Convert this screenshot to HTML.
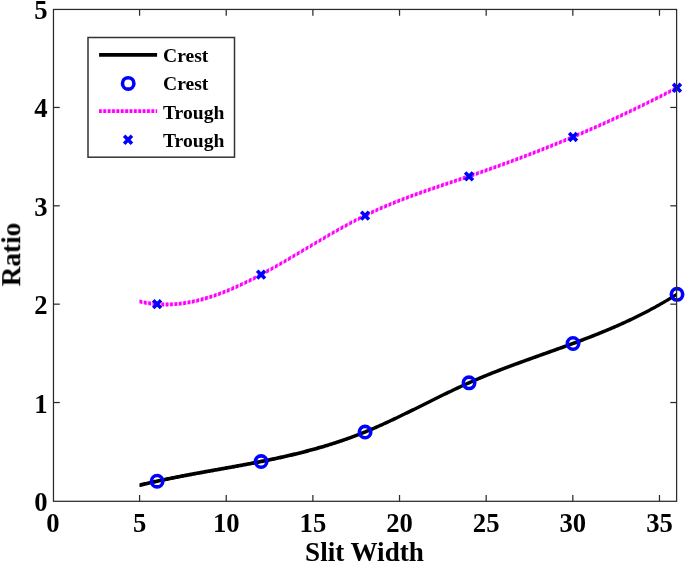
<!DOCTYPE html>
<html><head><meta charset="utf-8"><style>
html,body{margin:0;padding:0;background:#fff;}
svg{display:block;}
text{font-family:"Liberation Serif",serif;font-weight:bold;fill:#000;}
.t{will-change:transform;}
</style></head><body>
<svg width="685" height="563" viewBox="0 0 685 563">
<rect x="0" y="0" width="685" height="563" fill="#fff"/>
<g class="t" font-size="26.67">
<text x="52.93" y="531.5" text-anchor="middle">0</text><text x="139.58" y="531.5" text-anchor="middle">5</text><text x="226.23" y="531.5" text-anchor="middle">10</text><text x="312.88" y="531.5" text-anchor="middle">15</text><text x="399.53" y="531.5" text-anchor="middle">20</text><text x="486.18" y="531.5" text-anchor="middle">25</text><text x="572.83" y="531.5" text-anchor="middle">30</text><text x="659.48" y="531.5" text-anchor="middle">35</text><text x="47.5" y="510.89" text-anchor="end">0</text><text x="47.5" y="412.53" text-anchor="end">1</text><text x="47.5" y="314.17" text-anchor="end">2</text><text x="47.5" y="215.81" text-anchor="end">3</text><text x="47.5" y="117.45" text-anchor="end">4</text><text x="47.5" y="19.09" text-anchor="end">5</text>
<text transform="translate(364.44,561.4) scale(1.017,1)" text-anchor="middle">Slit Width</text>
<text transform="translate(20.2,254.57) rotate(-90) scale(1.025,1)" text-anchor="middle">Ratio</text>
</g>
<path d="M139.50,483.32 L140.50,483.08 L141.50,482.84 L142.50,482.60 L143.49,482.36 L144.49,482.12 L145.49,481.89 L146.49,481.66 L147.49,481.43 L148.49,481.20 L149.49,480.97 L150.49,480.74 L151.48,480.52 L152.48,480.29 L153.48,480.07 L154.48,479.85 L155.48,479.63 L156.48,479.41 L157.48,479.19 L158.48,478.98 L159.47,478.76 L160.47,478.55 L161.47,478.34 L162.47,478.13 L163.47,477.92 L164.47,477.71 L165.47,477.50 L166.47,477.29 L167.46,477.09 L168.46,476.88 L169.46,476.68 L170.46,476.48 L171.46,476.28 L172.46,476.08 L173.46,475.88 L174.46,475.68 L175.45,475.48 L176.45,475.28 L177.45,475.09 L178.45,474.89 L179.45,474.70 L180.45,474.50 L181.45,474.31 L182.44,474.12 L183.44,473.93 L184.44,473.74 L185.44,473.55 L186.44,473.36 L187.44,473.17 L188.44,472.98 L189.44,472.79 L190.43,472.61 L191.43,472.42 L192.43,472.24 L193.43,472.05 L194.43,471.87 L195.43,471.68 L196.43,471.50 L197.43,471.32 L198.42,471.13 L199.42,470.95 L200.42,470.77 L201.42,470.59 L202.42,470.41 L203.42,470.22 L204.42,470.04 L205.42,469.86 L206.41,469.68 L207.41,469.50 L208.41,469.32 L209.41,469.14 L210.41,468.97 L211.41,468.79 L212.41,468.61 L213.41,468.43 L214.40,468.25 L215.40,468.07 L216.40,467.89 L217.40,467.71 L218.40,467.53 L219.40,467.36 L220.40,467.18 L221.39,467.00 L222.39,466.82 L223.39,466.64 L224.39,466.46 L225.39,466.28 L226.39,466.10 L227.39,465.92 L228.39,465.74 L229.38,465.56 L230.38,465.38 L231.38,465.20 L232.38,465.02 L233.38,464.84 L234.38,464.66 L235.38,464.48 L236.38,464.29 L237.37,464.11 L238.37,463.93 L239.37,463.74 L240.37,463.56 L241.37,463.38 L242.37,463.19 L243.37,463.01 L244.37,462.82 L245.36,462.63 L246.36,462.45 L247.36,462.26 L248.36,462.07 L249.36,461.88 L250.36,461.69 L251.36,461.50 L252.36,461.31 L253.35,461.12 L254.35,460.93 L255.35,460.73 L256.35,460.54 L257.35,460.34 L258.35,460.15 L259.35,459.95 L260.34,459.75 L261.34,459.56 L262.34,459.36 L263.34,459.16 L264.34,458.96 L265.34,458.75 L266.34,458.55 L267.34,458.35 L268.33,458.14 L269.33,457.93 L270.33,457.73 L271.33,457.52 L272.33,457.31 L273.33,457.10 L274.33,456.89 L275.33,456.67 L276.32,456.46 L277.32,456.24 L278.32,456.03 L279.32,455.81 L280.32,455.59 L281.32,455.37 L282.32,455.15 L283.32,454.92 L284.31,454.70 L285.31,454.47 L286.31,454.24 L287.31,454.02 L288.31,453.79 L289.31,453.55 L290.31,453.32 L291.31,453.08 L292.30,452.85 L293.30,452.61 L294.30,452.37 L295.30,452.13 L296.30,451.89 L297.30,451.64 L298.30,451.40 L299.29,451.15 L300.29,450.90 L301.29,450.65 L302.29,450.39 L303.29,450.14 L304.29,449.88 L305.29,449.62 L306.29,449.36 L307.28,449.10 L308.28,448.84 L309.28,448.57 L310.28,448.30 L311.28,448.03 L312.28,447.76 L313.28,447.49 L314.28,447.21 L315.27,446.93 L316.27,446.65 L317.27,446.37 L318.27,446.09 L319.27,445.80 L320.27,445.51 L321.27,445.22 L322.27,444.93 L323.26,444.64 L324.26,444.34 L325.26,444.04 L326.26,443.74 L327.26,443.44 L328.26,443.13 L329.26,442.82 L330.26,442.51 L331.25,442.20 L332.25,441.88 L333.25,441.56 L334.25,441.24 L335.25,440.92 L336.25,440.60 L337.25,440.27 L338.24,439.94 L339.24,439.61 L340.24,439.27 L341.24,438.93 L342.24,438.59 L343.24,438.25 L344.24,437.90 L345.24,437.55 L346.23,437.20 L347.23,436.85 L348.23,436.49 L349.23,436.13 L350.23,435.77 L351.23,435.41 L352.23,435.04 L353.23,434.67 L354.22,434.30 L355.22,433.92 L356.22,433.54 L357.22,433.16 L358.22,432.78 L359.22,432.39 L360.22,432.00 L361.22,431.60 L362.21,431.21 L363.21,430.81 L364.21,430.41 L365.21,430.00 L366.21,429.59 L367.21,429.18 L368.21,428.76 L369.21,428.35 L370.20,427.93 L371.20,427.50 L372.20,427.08 L373.20,426.65 L374.20,426.22 L375.20,425.78 L376.20,425.35 L377.19,424.91 L378.19,424.46 L379.19,424.02 L380.19,423.57 L381.19,423.13 L382.19,422.68 L383.19,422.22 L384.19,421.77 L385.18,421.31 L386.18,420.85 L387.18,420.39 L388.18,419.93 L389.18,419.46 L390.18,418.99 L391.18,418.53 L392.18,418.06 L393.17,417.58 L394.17,417.11 L395.17,416.64 L396.17,416.16 L397.17,415.68 L398.17,415.20 L399.17,414.72 L400.17,414.24 L401.16,413.76 L402.16,413.27 L403.16,412.79 L404.16,412.30 L405.16,411.81 L406.16,411.32 L407.16,410.83 L408.15,410.34 L409.15,409.85 L410.15,409.36 L411.15,408.87 L412.15,408.37 L413.15,407.88 L414.15,407.39 L415.15,406.89 L416.14,406.39 L417.14,405.90 L418.14,405.40 L419.14,404.91 L420.14,404.41 L421.14,403.91 L422.14,403.42 L423.14,402.92 L424.13,402.42 L425.13,401.92 L426.13,401.43 L427.13,400.93 L428.13,400.43 L429.13,399.94 L430.13,399.44 L431.13,398.94 L432.12,398.45 L433.12,397.95 L434.12,397.46 L435.12,396.96 L436.12,396.47 L437.12,395.98 L438.12,395.49 L439.12,394.99 L440.11,394.50 L441.11,394.01 L442.11,393.52 L443.11,393.04 L444.11,392.55 L445.11,392.06 L446.11,391.58 L447.10,391.10 L448.10,390.61 L449.10,390.13 L450.10,389.65 L451.10,389.17 L452.10,388.70 L453.10,388.22 L454.10,387.75 L455.09,387.27 L456.09,386.80 L457.09,386.33 L458.09,385.87 L459.09,385.40 L460.09,384.94 L461.09,384.48 L462.09,384.02 L463.08,383.56 L464.08,383.10 L465.08,382.65 L466.08,382.20 L467.08,381.75 L468.08,381.30 L469.08,380.86 L470.08,380.41 L471.07,379.97 L472.07,379.54 L473.07,379.10 L474.07,378.67 L475.07,378.24 L476.07,377.81 L477.07,377.38 L478.07,376.96 L479.06,376.53 L480.06,376.11 L481.06,375.70 L482.06,375.28 L483.06,374.86 L484.06,374.45 L485.06,374.04 L486.05,373.63 L487.05,373.22 L488.05,372.82 L489.05,372.42 L490.05,372.01 L491.05,371.61 L492.05,371.22 L493.05,370.82 L494.04,370.42 L495.04,370.03 L496.04,369.64 L497.04,369.25 L498.04,368.86 L499.04,368.47 L500.04,368.08 L501.04,367.70 L502.03,367.31 L503.03,366.93 L504.03,366.55 L505.03,366.17 L506.03,365.79 L507.03,365.42 L508.03,365.04 L509.03,364.66 L510.02,364.29 L511.02,363.92 L512.02,363.55 L513.02,363.18 L514.02,362.81 L515.02,362.44 L516.02,362.07 L517.02,361.70 L518.01,361.33 L519.01,360.97 L520.01,360.60 L521.01,360.24 L522.01,359.88 L523.01,359.51 L524.01,359.15 L525.00,358.79 L526.00,358.43 L527.00,358.07 L528.00,357.71 L529.00,357.35 L530.00,356.99 L531.00,356.64 L532.00,356.28 L532.99,355.92 L533.99,355.56 L534.99,355.21 L535.99,354.85 L536.99,354.49 L537.99,354.14 L538.99,353.78 L539.99,353.43 L540.98,353.07 L541.98,352.72 L542.98,352.36 L543.98,352.00 L544.98,351.65 L545.98,351.29 L546.98,350.94 L547.98,350.58 L548.97,350.23 L549.97,349.87 L550.97,349.52 L551.97,349.16 L552.97,348.80 L553.97,348.45 L554.97,348.09 L555.97,347.73 L556.96,347.37 L557.96,347.02 L558.96,346.66 L559.96,346.30 L560.96,345.94 L561.96,345.58 L562.96,345.22 L563.95,344.86 L564.95,344.49 L565.95,344.13 L566.95,343.77 L567.95,343.40 L568.95,343.04 L569.95,342.67 L570.95,342.31 L571.94,341.94 L572.94,341.57 L573.94,341.20 L574.94,340.83 L575.94,340.46 L576.94,340.09 L577.94,339.72 L578.94,339.34 L579.93,338.97 L580.93,338.59 L581.93,338.21 L582.93,337.84 L583.93,337.46 L584.93,337.07 L585.93,336.69 L586.93,336.31 L587.92,335.92 L588.92,335.54 L589.92,335.15 L590.92,334.76 L591.92,334.37 L592.92,333.98 L593.92,333.58 L594.92,333.19 L595.91,332.79 L596.91,332.39 L597.91,331.99 L598.91,331.59 L599.91,331.19 L600.91,330.78 L601.91,330.37 L602.90,329.96 L603.90,329.55 L604.90,329.14 L605.90,328.73 L606.90,328.31 L607.90,327.89 L608.90,327.47 L609.90,327.05 L610.89,326.62 L611.89,326.20 L612.89,325.77 L613.89,325.34 L614.89,324.90 L615.89,324.47 L616.89,324.03 L617.89,323.59 L618.88,323.15 L619.88,322.70 L620.88,322.25 L621.88,321.80 L622.88,321.35 L623.88,320.90 L624.88,320.44 L625.88,319.98 L626.87,319.52 L627.87,319.05 L628.87,318.59 L629.87,318.12 L630.87,317.64 L631.87,317.17 L632.87,316.69 L633.87,316.21 L634.86,315.72 L635.86,315.24 L636.86,314.75 L637.86,314.26 L638.86,313.76 L639.86,313.26 L640.86,312.76 L641.85,312.26 L642.85,311.75 L643.85,311.24 L644.85,310.72 L645.85,310.21 L646.85,309.69 L647.85,309.16 L648.85,308.64 L649.84,308.11 L650.84,307.57 L651.84,307.04 L652.84,306.50 L653.84,305.95 L654.84,305.40 L655.84,304.85 L656.84,304.30 L657.83,303.74 L658.83,303.18 L659.83,302.62 L660.83,302.05 L661.83,301.48 L662.83,300.90 L663.83,300.32 L664.83,299.74 L665.82,299.15 L666.82,298.56 L667.82,297.97 L668.82,297.37 L669.82,296.76 L670.82,296.16 L671.82,295.55 L672.82,294.93 L673.81,294.31 L674.81,293.69 L675.81,293.06 L676.81,292.43 L676.81,296.23 L675.81,296.86 L674.81,297.49 L673.81,298.11 L672.82,298.73 L671.82,299.35 L670.82,299.96 L669.82,300.56 L668.82,301.17 L667.82,301.77 L666.82,302.36 L665.82,302.95 L664.83,303.54 L663.83,304.12 L662.83,304.70 L661.83,305.28 L660.83,305.85 L659.83,306.42 L658.83,306.98 L657.83,307.54 L656.84,308.10 L655.84,308.65 L654.84,309.20 L653.84,309.75 L652.84,310.30 L651.84,310.84 L650.84,311.37 L649.84,311.91 L648.85,312.44 L647.85,312.96 L646.85,313.49 L645.85,314.01 L644.85,314.52 L643.85,315.04 L642.85,315.55 L641.85,316.06 L640.86,316.56 L639.86,317.06 L638.86,317.56 L637.86,318.06 L636.86,318.55 L635.86,319.04 L634.86,319.52 L633.87,320.01 L632.87,320.49 L631.87,320.97 L630.87,321.44 L629.87,321.92 L628.87,322.39 L627.87,322.85 L626.87,323.32 L625.88,323.78 L624.88,324.24 L623.88,324.70 L622.88,325.15 L621.88,325.60 L620.88,326.05 L619.88,326.50 L618.88,326.95 L617.89,327.39 L616.89,327.83 L615.89,328.27 L614.89,328.70 L613.89,329.14 L612.89,329.57 L611.89,330.00 L610.89,330.42 L609.90,330.85 L608.90,331.27 L607.90,331.69 L606.90,332.11 L605.90,332.53 L604.90,332.94 L603.90,333.35 L602.90,333.76 L601.91,334.17 L600.91,334.58 L599.91,334.99 L598.91,335.39 L597.91,335.79 L596.91,336.19 L595.91,336.59 L594.92,336.99 L593.92,337.38 L592.92,337.78 L591.92,338.17 L590.92,338.56 L589.92,338.95 L588.92,339.34 L587.92,339.72 L586.93,340.11 L585.93,340.49 L584.93,340.87 L583.93,341.26 L582.93,341.64 L581.93,342.01 L580.93,342.39 L579.93,342.77 L578.94,343.14 L577.94,343.52 L576.94,343.89 L575.94,344.26 L574.94,344.63 L573.94,345.00 L572.94,345.37 L571.94,345.74 L570.95,346.11 L569.95,346.47 L568.95,346.84 L567.95,347.20 L566.95,347.57 L565.95,347.93 L564.95,348.29 L563.95,348.66 L562.96,349.02 L561.96,349.38 L560.96,349.74 L559.96,350.10 L558.96,350.46 L557.96,350.82 L556.96,351.17 L555.97,351.53 L554.97,351.89 L553.97,352.25 L552.97,352.60 L551.97,352.96 L550.97,353.32 L549.97,353.67 L548.97,354.03 L547.98,354.38 L546.98,354.74 L545.98,355.09 L544.98,355.45 L543.98,355.80 L542.98,356.16 L541.98,356.52 L540.98,356.87 L539.99,357.23 L538.99,357.58 L537.99,357.94 L536.99,358.29 L535.99,358.65 L534.99,359.01 L533.99,359.36 L532.99,359.72 L532.00,360.08 L531.00,360.44 L530.00,360.79 L529.00,361.15 L528.00,361.51 L527.00,361.87 L526.00,362.23 L525.00,362.59 L524.01,362.95 L523.01,363.31 L522.01,363.68 L521.01,364.04 L520.01,364.40 L519.01,364.77 L518.01,365.13 L517.02,365.50 L516.02,365.87 L515.02,366.24 L514.02,366.61 L513.02,366.98 L512.02,367.35 L511.02,367.72 L510.02,368.09 L509.03,368.46 L508.03,368.84 L507.03,369.22 L506.03,369.59 L505.03,369.97 L504.03,370.35 L503.03,370.73 L502.03,371.11 L501.04,371.50 L500.04,371.88 L499.04,372.27 L498.04,372.66 L497.04,373.05 L496.04,373.44 L495.04,373.83 L494.04,374.22 L493.05,374.62 L492.05,375.02 L491.05,375.41 L490.05,375.81 L489.05,376.22 L488.05,376.62 L487.05,377.02 L486.05,377.43 L485.06,377.84 L484.06,378.25 L483.06,378.66 L482.06,379.08 L481.06,379.50 L480.06,379.91 L479.06,380.33 L478.07,380.76 L477.07,381.18 L476.07,381.61 L475.07,382.04 L474.07,382.47 L473.07,382.90 L472.07,383.34 L471.07,383.77 L470.08,384.21 L469.08,384.66 L468.08,385.10 L467.08,385.55 L466.08,386.00 L465.08,386.45 L464.08,386.90 L463.08,387.36 L462.09,387.82 L461.09,388.28 L460.09,388.74 L459.09,389.20 L458.09,389.67 L457.09,390.13 L456.09,390.60 L455.09,391.07 L454.10,391.55 L453.10,392.02 L452.10,392.50 L451.10,392.97 L450.10,393.45 L449.10,393.93 L448.10,394.41 L447.10,394.90 L446.11,395.38 L445.11,395.86 L444.11,396.35 L443.11,396.84 L442.11,397.32 L441.11,397.81 L440.11,398.30 L439.12,398.79 L438.12,399.29 L437.12,399.78 L436.12,400.27 L435.12,400.76 L434.12,401.26 L433.12,401.75 L432.12,402.25 L431.13,402.74 L430.13,403.24 L429.13,403.74 L428.13,404.23 L427.13,404.73 L426.13,405.23 L425.13,405.72 L424.13,406.22 L423.14,406.72 L422.14,407.22 L421.14,407.71 L420.14,408.21 L419.14,408.71 L418.14,409.20 L417.14,409.70 L416.14,410.19 L415.15,410.69 L414.15,411.19 L413.15,411.68 L412.15,412.17 L411.15,412.67 L410.15,413.16 L409.15,413.65 L408.15,414.14 L407.16,414.63 L406.16,415.12 L405.16,415.61 L404.16,416.10 L403.16,416.59 L402.16,417.07 L401.16,417.56 L400.17,418.04 L399.17,418.52 L398.17,419.00 L397.17,419.48 L396.17,419.96 L395.17,420.44 L394.17,420.91 L393.17,421.38 L392.18,421.86 L391.18,422.33 L390.18,422.79 L389.18,423.26 L388.18,423.73 L387.18,424.19 L386.18,424.65 L385.18,425.11 L384.19,425.57 L383.19,426.02 L382.19,426.48 L381.19,426.93 L380.19,427.37 L379.19,427.82 L378.19,428.26 L377.19,428.71 L376.20,429.15 L375.20,429.58 L374.20,430.02 L373.20,430.45 L372.20,430.88 L371.20,431.30 L370.20,431.73 L369.21,432.15 L368.21,432.56 L367.21,432.98 L366.21,433.39 L365.21,433.80 L364.21,434.21 L363.21,434.61 L362.21,435.01 L361.22,435.40 L360.22,435.80 L359.22,436.19 L358.22,436.58 L357.22,436.96 L356.22,437.34 L355.22,437.72 L354.22,438.10 L353.23,438.47 L352.23,438.84 L351.23,439.21 L350.23,439.57 L349.23,439.93 L348.23,440.29 L347.23,440.65 L346.23,441.00 L345.24,441.35 L344.24,441.70 L343.24,442.05 L342.24,442.39 L341.24,442.73 L340.24,443.07 L339.24,443.41 L338.24,443.74 L337.25,444.07 L336.25,444.40 L335.25,444.72 L334.25,445.04 L333.25,445.36 L332.25,445.68 L331.25,446.00 L330.26,446.31 L329.26,446.62 L328.26,446.93 L327.26,447.24 L326.26,447.54 L325.26,447.84 L324.26,448.14 L323.26,448.44 L322.27,448.73 L321.27,449.02 L320.27,449.31 L319.27,449.60 L318.27,449.89 L317.27,450.17 L316.27,450.45 L315.27,450.73 L314.28,451.01 L313.28,451.29 L312.28,451.56 L311.28,451.83 L310.28,452.10 L309.28,452.37 L308.28,452.64 L307.28,452.90 L306.29,453.16 L305.29,453.42 L304.29,453.68 L303.29,453.94 L302.29,454.19 L301.29,454.45 L300.29,454.70 L299.29,454.95 L298.30,455.20 L297.30,455.44 L296.30,455.69 L295.30,455.93 L294.30,456.17 L293.30,456.41 L292.30,456.65 L291.31,456.88 L290.31,457.12 L289.31,457.35 L288.31,457.59 L287.31,457.82 L286.31,458.04 L285.31,458.27 L284.31,458.50 L283.32,458.72 L282.32,458.95 L281.32,459.17 L280.32,459.39 L279.32,459.61 L278.32,459.83 L277.32,460.04 L276.32,460.26 L275.33,460.47 L274.33,460.69 L273.33,460.90 L272.33,461.11 L271.33,461.32 L270.33,461.53 L269.33,461.73 L268.33,461.94 L267.34,462.15 L266.34,462.35 L265.34,462.55 L264.34,462.76 L263.34,462.96 L262.34,463.16 L261.34,463.36 L260.34,463.55 L259.35,463.75 L258.35,463.95 L257.35,464.14 L256.35,464.34 L255.35,464.53 L254.35,464.73 L253.35,464.92 L252.36,465.11 L251.36,465.30 L250.36,465.49 L249.36,465.68 L248.36,465.87 L247.36,466.06 L246.36,466.25 L245.36,466.43 L244.37,466.62 L243.37,466.81 L242.37,466.99 L241.37,467.18 L240.37,467.36 L239.37,467.54 L238.37,467.73 L237.37,467.91 L236.38,468.09 L235.38,468.28 L234.38,468.46 L233.38,468.64 L232.38,468.82 L231.38,469.00 L230.38,469.18 L229.38,469.36 L228.39,469.54 L227.39,469.72 L226.39,469.90 L225.39,470.08 L224.39,470.26 L223.39,470.44 L222.39,470.62 L221.39,470.80 L220.40,470.98 L219.40,471.16 L218.40,471.33 L217.40,471.51 L216.40,471.69 L215.40,471.87 L214.40,472.05 L213.41,472.23 L212.41,472.41 L211.41,472.59 L210.41,472.77 L209.41,472.94 L208.41,473.12 L207.41,473.30 L206.41,473.48 L205.42,473.66 L204.42,473.84 L203.42,474.02 L202.42,474.21 L201.42,474.39 L200.42,474.57 L199.42,474.75 L198.42,474.93 L197.43,475.12 L196.43,475.30 L195.43,475.48 L194.43,475.67 L193.43,475.85 L192.43,476.04 L191.43,476.22 L190.43,476.41 L189.44,476.59 L188.44,476.78 L187.44,476.97 L186.44,477.16 L185.44,477.35 L184.44,477.54 L183.44,477.73 L182.44,477.92 L181.45,478.11 L180.45,478.30 L179.45,478.50 L178.45,478.69 L177.45,478.89 L176.45,479.08 L175.45,479.28 L174.46,479.48 L173.46,479.68 L172.46,479.88 L171.46,480.08 L170.46,480.28 L169.46,480.48 L168.46,480.68 L167.46,480.89 L166.47,481.09 L165.47,481.30 L164.47,481.51 L163.47,481.72 L162.47,481.93 L161.47,482.14 L160.47,482.35 L159.47,482.56 L158.48,482.78 L157.48,482.99 L156.48,483.21 L155.48,483.43 L154.48,483.65 L153.48,483.87 L152.48,484.09 L151.48,484.32 L150.49,484.54 L149.49,484.77 L148.49,485.00 L147.49,485.23 L146.49,485.46 L145.49,485.69 L144.49,485.92 L143.49,486.16 L142.50,486.40 L141.50,486.64 L140.50,486.88 L139.50,487.12Z" fill="#000"/>
<path d="M139.50,299.51 L140.50,299.75 L141.50,299.98 L142.50,300.20 L143.49,300.40 L144.49,300.60 L145.49,300.79 L146.49,300.97 L147.49,301.14 L148.49,301.30 L149.49,301.45 L150.49,301.59 L151.48,301.72 L152.48,301.84 L153.48,301.95 L154.48,302.06 L155.48,302.15 L156.48,302.24 L157.48,302.31 L158.48,302.38 L159.47,302.44 L160.47,302.49 L161.47,302.53 L162.47,302.56 L163.47,302.58 L164.47,302.60 L165.47,302.60 L166.47,302.60 L167.46,302.59 L168.46,302.57 L169.46,302.54 L170.46,302.51 L171.46,302.46 L172.46,302.41 L173.46,302.35 L174.46,302.28 L175.45,302.20 L176.45,302.12 L177.45,302.03 L178.45,301.93 L179.45,301.82 L180.45,301.70 L181.45,301.58 L182.44,301.45 L183.44,301.31 L184.44,301.17 L185.44,301.02 L186.44,300.86 L187.44,300.69 L188.44,300.51 L189.44,300.33 L190.43,300.14 L191.43,299.95 L192.43,299.75 L193.43,299.54 L194.43,299.32 L195.43,299.10 L196.43,298.87 L197.43,298.63 L198.42,298.39 L199.42,298.14 L200.42,297.89 L201.42,297.62 L202.42,297.36 L203.42,297.08 L204.42,296.80 L205.42,296.51 L206.41,296.22 L207.41,295.92 L208.41,295.62 L209.41,295.31 L210.41,294.99 L211.41,294.67 L212.41,294.34 L213.41,294.01 L214.40,293.67 L215.40,293.32 L216.40,292.97 L217.40,292.62 L218.40,292.25 L219.40,291.89 L220.40,291.52 L221.39,291.14 L222.39,290.76 L223.39,290.37 L224.39,289.98 L225.39,289.58 L226.39,289.18 L227.39,288.77 L228.39,288.36 L229.38,287.95 L230.38,287.53 L231.38,287.10 L232.38,286.67 L233.38,286.24 L234.38,285.80 L235.38,285.36 L236.38,284.91 L237.37,284.46 L238.37,284.00 L239.37,283.54 L240.37,283.08 L241.37,282.61 L242.37,282.14 L243.37,281.66 L244.37,281.18 L245.36,280.70 L246.36,280.21 L247.36,279.72 L248.36,279.23 L249.36,278.73 L250.36,278.23 L251.36,277.73 L252.36,277.22 L253.35,276.71 L254.35,276.20 L255.35,275.68 L256.35,275.16 L257.35,274.64 L258.35,274.11 L259.35,273.58 L260.34,273.05 L261.34,272.52 L262.34,271.98 L263.34,271.44 L264.34,270.90 L265.34,270.36 L266.34,269.81 L267.34,269.26 L268.33,268.71 L269.33,268.15 L270.33,267.60 L271.33,267.04 L272.33,266.48 L273.33,265.92 L274.33,265.35 L275.33,264.79 L276.32,264.22 L277.32,263.65 L278.32,263.08 L279.32,262.50 L280.32,261.93 L281.32,261.35 L282.32,260.77 L283.32,260.19 L284.31,259.61 L285.31,259.03 L286.31,258.45 L287.31,257.86 L288.31,257.28 L289.31,256.69 L290.31,256.10 L291.31,255.51 L292.30,254.92 L293.30,254.33 L294.30,253.74 L295.30,253.15 L296.30,252.56 L297.30,251.96 L298.30,251.37 L299.29,250.78 L300.29,250.18 L301.29,249.59 L302.29,248.99 L303.29,248.40 L304.29,247.80 L305.29,247.21 L306.29,246.61 L307.28,246.01 L308.28,245.42 L309.28,244.82 L310.28,244.23 L311.28,243.63 L312.28,243.04 L313.28,242.44 L314.28,241.85 L315.27,241.26 L316.27,240.66 L317.27,240.07 L318.27,239.48 L319.27,238.89 L320.27,238.30 L321.27,237.71 L322.27,237.12 L323.26,236.54 L324.26,235.95 L325.26,235.37 L326.26,234.78 L327.26,234.20 L328.26,233.62 L329.26,233.04 L330.26,232.46 L331.25,231.88 L332.25,231.31 L333.25,230.74 L334.25,230.16 L335.25,229.59 L336.25,229.02 L337.25,228.46 L338.24,227.89 L339.24,227.33 L340.24,226.77 L341.24,226.21 L342.24,225.65 L343.24,225.10 L344.24,224.55 L345.24,224.00 L346.23,223.45 L347.23,222.90 L348.23,222.36 L349.23,221.82 L350.23,221.28 L351.23,220.75 L352.23,220.22 L353.23,219.69 L354.22,219.16 L355.22,218.64 L356.22,218.12 L357.22,217.60 L358.22,217.09 L359.22,216.58 L360.22,216.07 L361.22,215.56 L362.21,215.06 L363.21,214.56 L364.21,214.07 L365.21,213.58 L366.21,213.09 L367.21,212.61 L368.21,212.13 L369.21,211.65 L370.20,211.18 L371.20,210.71 L372.20,210.24 L373.20,209.78 L374.20,209.32 L375.20,208.86 L376.20,208.41 L377.19,207.96 L378.19,207.51 L379.19,207.06 L380.19,206.62 L381.19,206.18 L382.19,205.75 L383.19,205.31 L384.19,204.88 L385.18,204.46 L386.18,204.03 L387.18,203.61 L388.18,203.19 L389.18,202.77 L390.18,202.36 L391.18,201.95 L392.18,201.54 L393.17,201.13 L394.17,200.73 L395.17,200.33 L396.17,199.93 L397.17,199.53 L398.17,199.13 L399.17,198.74 L400.17,198.35 L401.16,197.96 L402.16,197.58 L403.16,197.19 L404.16,196.81 L405.16,196.43 L406.16,196.05 L407.16,195.67 L408.15,195.30 L409.15,194.93 L410.15,194.56 L411.15,194.19 L412.15,193.82 L413.15,193.45 L414.15,193.09 L415.15,192.73 L416.14,192.36 L417.14,192.00 L418.14,191.65 L419.14,191.29 L420.14,190.93 L421.14,190.58 L422.14,190.23 L423.14,189.87 L424.13,189.52 L425.13,189.17 L426.13,188.83 L427.13,188.48 L428.13,188.13 L429.13,187.79 L430.13,187.44 L431.13,187.10 L432.12,186.76 L433.12,186.42 L434.12,186.07 L435.12,185.73 L436.12,185.40 L437.12,185.06 L438.12,184.72 L439.12,184.38 L440.11,184.04 L441.11,183.71 L442.11,183.37 L443.11,183.04 L444.11,182.70 L445.11,182.37 L446.11,182.03 L447.10,181.70 L448.10,181.36 L449.10,181.03 L450.10,180.69 L451.10,180.36 L452.10,180.03 L453.10,179.69 L454.10,179.36 L455.09,179.03 L456.09,178.69 L457.09,178.36 L458.09,178.02 L459.09,177.69 L460.09,177.36 L461.09,177.02 L462.09,176.69 L463.08,176.35 L464.08,176.01 L465.08,175.68 L466.08,175.34 L467.08,175.00 L468.08,174.66 L469.08,174.32 L470.08,173.99 L471.07,173.65 L472.07,173.30 L473.07,172.96 L474.07,172.62 L475.07,172.28 L476.07,171.93 L477.07,171.59 L478.07,171.24 L479.06,170.90 L480.06,170.55 L481.06,170.21 L482.06,169.86 L483.06,169.51 L484.06,169.16 L485.06,168.81 L486.05,168.46 L487.05,168.11 L488.05,167.76 L489.05,167.40 L490.05,167.05 L491.05,166.70 L492.05,166.34 L493.05,165.99 L494.04,165.63 L495.04,165.27 L496.04,164.92 L497.04,164.56 L498.04,164.20 L499.04,163.84 L500.04,163.48 L501.04,163.12 L502.03,162.75 L503.03,162.39 L504.03,162.03 L505.03,161.66 L506.03,161.30 L507.03,160.93 L508.03,160.57 L509.03,160.20 L510.02,159.83 L511.02,159.46 L512.02,159.09 L513.02,158.72 L514.02,158.35 L515.02,157.98 L516.02,157.61 L517.02,157.23 L518.01,156.86 L519.01,156.48 L520.01,156.11 L521.01,155.73 L522.01,155.35 L523.01,154.98 L524.01,154.60 L525.00,154.22 L526.00,153.84 L527.00,153.46 L528.00,153.07 L529.00,152.69 L530.00,152.31 L531.00,151.92 L532.00,151.54 L532.99,151.15 L533.99,150.76 L534.99,150.38 L535.99,149.99 L536.99,149.60 L537.99,149.21 L538.99,148.82 L539.99,148.42 L540.98,148.03 L541.98,147.64 L542.98,147.24 L543.98,146.85 L544.98,146.45 L545.98,146.05 L546.98,145.66 L547.98,145.26 L548.97,144.86 L549.97,144.46 L550.97,144.06 L551.97,143.66 L552.97,143.25 L553.97,142.85 L554.97,142.44 L555.97,142.04 L556.96,141.63 L557.96,141.22 L558.96,140.82 L559.96,140.41 L560.96,140.00 L561.96,139.59 L562.96,139.18 L563.95,138.76 L564.95,138.35 L565.95,137.94 L566.95,137.52 L567.95,137.10 L568.95,136.69 L569.95,136.27 L570.95,135.85 L571.94,135.43 L572.94,135.01 L573.94,134.59 L574.94,134.17 L575.94,133.74 L576.94,133.32 L577.94,132.89 L578.94,132.47 L579.93,132.04 L580.93,131.61 L581.93,131.18 L582.93,130.75 L583.93,130.32 L584.93,129.89 L585.93,129.46 L586.93,129.03 L587.92,128.59 L588.92,128.16 L589.92,127.72 L590.92,127.28 L591.92,126.84 L592.92,126.40 L593.92,125.96 L594.92,125.52 L595.91,125.08 L596.91,124.64 L597.91,124.19 L598.91,123.75 L599.91,123.30 L600.91,122.86 L601.91,122.41 L602.90,121.96 L603.90,121.51 L604.90,121.06 L605.90,120.61 L606.90,120.16 L607.90,119.70 L608.90,119.25 L609.90,118.79 L610.89,118.33 L611.89,117.88 L612.89,117.42 L613.89,116.96 L614.89,116.50 L615.89,116.04 L616.89,115.57 L617.89,115.11 L618.88,114.64 L619.88,114.18 L620.88,113.71 L621.88,113.24 L622.88,112.78 L623.88,112.31 L624.88,111.83 L625.88,111.36 L626.87,110.89 L627.87,110.42 L628.87,109.94 L629.87,109.46 L630.87,108.99 L631.87,108.51 L632.87,108.03 L633.87,107.55 L634.86,107.07 L635.86,106.59 L636.86,106.10 L637.86,105.62 L638.86,105.13 L639.86,104.65 L640.86,104.16 L641.85,103.67 L642.85,103.18 L643.85,102.69 L644.85,102.20 L645.85,101.71 L646.85,101.21 L647.85,100.72 L648.85,100.22 L649.84,99.72 L650.84,99.22 L651.84,98.72 L652.84,98.22 L653.84,97.72 L654.84,97.22 L655.84,96.72 L656.84,96.21 L657.83,95.71 L658.83,95.20 L659.83,94.69 L660.83,94.18 L661.83,93.67 L662.83,93.16 L663.83,92.65 L664.83,92.13 L665.82,91.62 L666.82,91.10 L667.82,90.58 L668.82,90.07 L669.82,89.55 L670.82,89.03 L671.82,88.50 L672.82,87.98 L673.81,87.46 L674.81,86.93 L675.81,86.41 L676.81,85.88 L676.81,89.68 L675.81,90.21 L674.81,90.73 L673.81,91.26 L672.82,91.78 L671.82,92.30 L670.82,92.83 L669.82,93.35 L668.82,93.87 L667.82,94.38 L666.82,94.90 L665.82,95.42 L664.83,95.93 L663.83,96.45 L662.83,96.96 L661.83,97.47 L660.83,97.98 L659.83,98.49 L658.83,99.00 L657.83,99.51 L656.84,100.01 L655.84,100.52 L654.84,101.02 L653.84,101.52 L652.84,102.02 L651.84,102.52 L650.84,103.02 L649.84,103.52 L648.85,104.02 L647.85,104.52 L646.85,105.01 L645.85,105.51 L644.85,106.00 L643.85,106.49 L642.85,106.98 L641.85,107.47 L640.86,107.96 L639.86,108.45 L638.86,108.93 L637.86,109.42 L636.86,109.90 L635.86,110.39 L634.86,110.87 L633.87,111.35 L632.87,111.83 L631.87,112.31 L630.87,112.79 L629.87,113.26 L628.87,113.74 L627.87,114.22 L626.87,114.69 L625.88,115.16 L624.88,115.63 L623.88,116.11 L622.88,116.58 L621.88,117.04 L620.88,117.51 L619.88,117.98 L618.88,118.44 L617.89,118.91 L616.89,119.37 L615.89,119.84 L614.89,120.30 L613.89,120.76 L612.89,121.22 L611.89,121.68 L610.89,122.13 L609.90,122.59 L608.90,123.05 L607.90,123.50 L606.90,123.96 L605.90,124.41 L604.90,124.86 L603.90,125.31 L602.90,125.76 L601.91,126.21 L600.91,126.66 L599.91,127.10 L598.91,127.55 L597.91,127.99 L596.91,128.44 L595.91,128.88 L594.92,129.32 L593.92,129.76 L592.92,130.20 L591.92,130.64 L590.92,131.08 L589.92,131.52 L588.92,131.96 L587.92,132.39 L586.93,132.83 L585.93,133.26 L584.93,133.69 L583.93,134.12 L582.93,134.55 L581.93,134.98 L580.93,135.41 L579.93,135.84 L578.94,136.27 L577.94,136.69 L576.94,137.12 L575.94,137.54 L574.94,137.97 L573.94,138.39 L572.94,138.81 L571.94,139.23 L570.95,139.65 L569.95,140.07 L568.95,140.49 L567.95,140.90 L566.95,141.32 L565.95,141.74 L564.95,142.15 L563.95,142.56 L562.96,142.98 L561.96,143.39 L560.96,143.80 L559.96,144.21 L558.96,144.62 L557.96,145.02 L556.96,145.43 L555.97,145.84 L554.97,146.24 L553.97,146.65 L552.97,147.05 L551.97,147.46 L550.97,147.86 L549.97,148.26 L548.97,148.66 L547.98,149.06 L546.98,149.46 L545.98,149.85 L544.98,150.25 L543.98,150.65 L542.98,151.04 L541.98,151.44 L540.98,151.83 L539.99,152.22 L538.99,152.62 L537.99,153.01 L536.99,153.40 L535.99,153.79 L534.99,154.18 L533.99,154.56 L532.99,154.95 L532.00,155.34 L531.00,155.72 L530.00,156.11 L529.00,156.49 L528.00,156.87 L527.00,157.26 L526.00,157.64 L525.00,158.02 L524.01,158.40 L523.01,158.78 L522.01,159.15 L521.01,159.53 L520.01,159.91 L519.01,160.28 L518.01,160.66 L517.02,161.03 L516.02,161.41 L515.02,161.78 L514.02,162.15 L513.02,162.52 L512.02,162.89 L511.02,163.26 L510.02,163.63 L509.03,164.00 L508.03,164.37 L507.03,164.73 L506.03,165.10 L505.03,165.46 L504.03,165.83 L503.03,166.19 L502.03,166.55 L501.04,166.92 L500.04,167.28 L499.04,167.64 L498.04,168.00 L497.04,168.36 L496.04,168.72 L495.04,169.07 L494.04,169.43 L493.05,169.79 L492.05,170.14 L491.05,170.50 L490.05,170.85 L489.05,171.20 L488.05,171.56 L487.05,171.91 L486.05,172.26 L485.06,172.61 L484.06,172.96 L483.06,173.31 L482.06,173.66 L481.06,174.01 L480.06,174.35 L479.06,174.70 L478.07,175.04 L477.07,175.39 L476.07,175.73 L475.07,176.08 L474.07,176.42 L473.07,176.76 L472.07,177.10 L471.07,177.45 L470.08,177.79 L469.08,178.12 L468.08,178.46 L467.08,178.80 L466.08,179.14 L465.08,179.48 L464.08,179.81 L463.08,180.15 L462.09,180.49 L461.09,180.82 L460.09,181.16 L459.09,181.49 L458.09,181.82 L457.09,182.16 L456.09,182.49 L455.09,182.83 L454.10,183.16 L453.10,183.49 L452.10,183.83 L451.10,184.16 L450.10,184.49 L449.10,184.83 L448.10,185.16 L447.10,185.50 L446.11,185.83 L445.11,186.17 L444.11,186.50 L443.11,186.84 L442.11,187.17 L441.11,187.51 L440.11,187.84 L439.12,188.18 L438.12,188.52 L437.12,188.86 L436.12,189.20 L435.12,189.53 L434.12,189.87 L433.12,190.22 L432.12,190.56 L431.13,190.90 L430.13,191.24 L429.13,191.59 L428.13,191.93 L427.13,192.28 L426.13,192.63 L425.13,192.97 L424.13,193.32 L423.14,193.67 L422.14,194.03 L421.14,194.38 L420.14,194.73 L419.14,195.09 L418.14,195.45 L417.14,195.80 L416.14,196.16 L415.15,196.53 L414.15,196.89 L413.15,197.25 L412.15,197.62 L411.15,197.99 L410.15,198.36 L409.15,198.73 L408.15,199.10 L407.16,199.47 L406.16,199.85 L405.16,200.23 L404.16,200.61 L403.16,200.99 L402.16,201.38 L401.16,201.76 L400.17,202.15 L399.17,202.54 L398.17,202.93 L397.17,203.33 L396.17,203.73 L395.17,204.13 L394.17,204.53 L393.17,204.93 L392.18,205.34 L391.18,205.75 L390.18,206.16 L389.18,206.57 L388.18,206.99 L387.18,207.41 L386.18,207.83 L385.18,208.26 L384.19,208.68 L383.19,209.11 L382.19,209.55 L381.19,209.98 L380.19,210.42 L379.19,210.86 L378.19,211.31 L377.19,211.76 L376.20,212.21 L375.20,212.66 L374.20,213.12 L373.20,213.58 L372.20,214.04 L371.20,214.51 L370.20,214.98 L369.21,215.45 L368.21,215.93 L367.21,216.41 L366.21,216.89 L365.21,217.38 L364.21,217.87 L363.21,218.36 L362.21,218.86 L361.22,219.36 L360.22,219.87 L359.22,220.38 L358.22,220.89 L357.22,221.40 L356.22,221.92 L355.22,222.44 L354.22,222.96 L353.23,223.49 L352.23,224.02 L351.23,224.55 L350.23,225.08 L349.23,225.62 L348.23,226.16 L347.23,226.70 L346.23,227.25 L345.24,227.80 L344.24,228.35 L343.24,228.90 L342.24,229.45 L341.24,230.01 L340.24,230.57 L339.24,231.13 L338.24,231.69 L337.25,232.26 L336.25,232.82 L335.25,233.39 L334.25,233.96 L333.25,234.54 L332.25,235.11 L331.25,235.68 L330.26,236.26 L329.26,236.84 L328.26,237.42 L327.26,238.00 L326.26,238.58 L325.26,239.17 L324.26,239.75 L323.26,240.34 L322.27,240.92 L321.27,241.51 L320.27,242.10 L319.27,242.69 L318.27,243.28 L317.27,243.87 L316.27,244.46 L315.27,245.06 L314.28,245.65 L313.28,246.24 L312.28,246.84 L311.28,247.43 L310.28,248.03 L309.28,248.62 L308.28,249.22 L307.28,249.81 L306.29,250.41 L305.29,251.01 L304.29,251.60 L303.29,252.20 L302.29,252.79 L301.29,253.39 L300.29,253.98 L299.29,254.58 L298.30,255.17 L297.30,255.76 L296.30,256.36 L295.30,256.95 L294.30,257.54 L293.30,258.13 L292.30,258.72 L291.31,259.31 L290.31,259.90 L289.31,260.49 L288.31,261.08 L287.31,261.66 L286.31,262.25 L285.31,262.83 L284.31,263.41 L283.32,263.99 L282.32,264.57 L281.32,265.15 L280.32,265.73 L279.32,266.30 L278.32,266.88 L277.32,267.45 L276.32,268.02 L275.33,268.59 L274.33,269.15 L273.33,269.72 L272.33,270.28 L271.33,270.84 L270.33,271.40 L269.33,271.95 L268.33,272.51 L267.34,273.06 L266.34,273.61 L265.34,274.16 L264.34,274.70 L263.34,275.24 L262.34,275.78 L261.34,276.32 L260.34,276.85 L259.35,277.38 L258.35,277.91 L257.35,278.44 L256.35,278.96 L255.35,279.48 L254.35,280.00 L253.35,280.51 L252.36,281.02 L251.36,281.53 L250.36,282.03 L249.36,282.53 L248.36,283.03 L247.36,283.52 L246.36,284.01 L245.36,284.50 L244.37,284.98 L243.37,285.46 L242.37,285.94 L241.37,286.41 L240.37,286.88 L239.37,287.34 L238.37,287.80 L237.37,288.26 L236.38,288.71 L235.38,289.16 L234.38,289.60 L233.38,290.04 L232.38,290.47 L231.38,290.90 L230.38,291.33 L229.38,291.75 L228.39,292.16 L227.39,292.57 L226.39,292.98 L225.39,293.38 L224.39,293.78 L223.39,294.17 L222.39,294.56 L221.39,294.94 L220.40,295.32 L219.40,295.69 L218.40,296.05 L217.40,296.42 L216.40,296.77 L215.40,297.12 L214.40,297.47 L213.41,297.81 L212.41,298.14 L211.41,298.47 L210.41,298.79 L209.41,299.11 L208.41,299.42 L207.41,299.72 L206.41,300.02 L205.42,300.31 L204.42,300.60 L203.42,300.88 L202.42,301.16 L201.42,301.42 L200.42,301.69 L199.42,301.94 L198.42,302.19 L197.43,302.43 L196.43,302.67 L195.43,302.90 L194.43,303.12 L193.43,303.34 L192.43,303.55 L191.43,303.75 L190.43,303.94 L189.44,304.13 L188.44,304.31 L187.44,304.49 L186.44,304.66 L185.44,304.82 L184.44,304.97 L183.44,305.11 L182.44,305.25 L181.45,305.38 L180.45,305.50 L179.45,305.62 L178.45,305.73 L177.45,305.83 L176.45,305.92 L175.45,306.00 L174.46,306.08 L173.46,306.15 L172.46,306.21 L171.46,306.26 L170.46,306.31 L169.46,306.34 L168.46,306.37 L167.46,306.39 L166.47,306.40 L165.47,306.40 L164.47,306.40 L163.47,306.38 L162.47,306.36 L161.47,306.33 L160.47,306.29 L159.47,306.24 L158.48,306.18 L157.48,306.11 L156.48,306.04 L155.48,305.95 L154.48,305.86 L153.48,305.75 L152.48,305.64 L151.48,305.52 L150.49,305.39 L149.49,305.25 L148.49,305.10 L147.49,304.94 L146.49,304.77 L145.49,304.59 L144.49,304.40 L143.49,304.20 L142.50,304.00 L141.50,303.78 L140.50,303.55 L139.50,303.31Z" fill="#f0f" fill-opacity="0.18"/>
<path d="M139.50,299.51 L140.42,299.73 L141.33,299.94 L142.25,300.14 L142.25,303.94 L141.33,303.74 L140.42,303.53 L139.50,303.31Z M143.87,300.48 L144.79,300.66 L145.70,300.83 L146.62,300.99 L146.62,304.79 L145.70,304.63 L144.79,304.46 L143.87,304.28Z M148.24,301.26 L149.16,301.40 L150.07,301.53 L150.99,301.66 L150.99,305.46 L150.07,305.33 L149.16,305.20 L148.24,305.06Z M152.61,301.86 L153.53,301.96 L154.44,302.05 L155.36,302.14 L155.36,305.94 L154.44,305.85 L153.53,305.76 L152.61,305.66Z M156.98,302.28 L157.90,302.34 L158.81,302.40 L159.73,302.45 L159.73,306.25 L158.81,306.20 L157.90,306.14 L156.98,306.08Z M161.35,302.52 L162.27,302.55 L163.18,302.58 L164.10,302.59 L164.10,306.39 L163.18,306.38 L162.27,306.35 L161.35,306.32Z M165.72,302.60 L166.64,302.60 L167.55,302.59 L168.47,302.57 L168.47,306.37 L167.55,306.39 L166.64,306.40 L165.72,306.40Z M170.09,302.52 L171.01,302.48 L171.92,302.44 L172.84,302.39 L172.84,306.19 L171.92,306.24 L171.01,306.28 L170.09,306.32Z M174.46,302.28 L175.38,302.21 L176.29,302.13 L177.21,302.05 L177.21,305.85 L176.29,305.93 L175.38,306.01 L174.46,306.08Z M178.83,301.89 L179.75,301.79 L180.66,301.68 L181.58,301.56 L181.58,305.36 L180.66,305.48 L179.75,305.59 L178.83,305.69Z M183.20,301.35 L184.12,301.22 L185.03,301.08 L185.95,300.94 L185.95,304.74 L185.03,304.88 L184.12,305.02 L183.20,305.15Z M187.57,300.67 L188.49,300.51 L189.40,300.34 L190.32,300.17 L190.32,303.97 L189.40,304.14 L188.49,304.31 L187.57,304.47Z M191.94,299.85 L192.86,299.66 L193.77,299.46 L194.69,299.26 L194.69,303.06 L193.77,303.26 L192.86,303.46 L191.94,303.65Z M196.31,298.90 L197.23,298.68 L198.14,298.46 L199.06,298.23 L199.06,302.03 L198.14,302.26 L197.23,302.48 L196.31,302.70Z M200.68,297.82 L201.60,297.58 L202.51,297.33 L203.43,297.08 L203.43,300.88 L202.51,301.13 L201.60,301.38 L200.68,301.62Z M205.05,296.62 L205.97,296.35 L206.88,296.08 L207.80,295.81 L207.80,299.61 L206.88,299.88 L205.97,300.15 L205.05,300.42Z M209.42,295.30 L210.34,295.01 L211.25,294.72 L212.17,294.42 L212.17,298.22 L211.25,298.52 L210.34,298.81 L209.42,299.10Z M213.79,293.88 L214.71,293.56 L215.62,293.25 L216.54,292.92 L216.54,296.72 L215.62,297.05 L214.71,297.36 L213.79,297.68Z M218.16,292.34 L219.08,292.01 L219.99,291.67 L220.91,291.32 L220.91,295.12 L219.99,295.47 L219.08,295.81 L218.16,296.14Z M222.53,290.71 L223.45,290.35 L224.36,289.99 L225.28,289.63 L225.28,293.43 L224.36,293.79 L223.45,294.15 L222.53,294.51Z M226.90,288.97 L227.82,288.60 L228.73,288.22 L229.65,287.84 L229.65,291.64 L228.73,292.02 L227.82,292.40 L226.90,292.77Z M231.27,287.15 L232.19,286.75 L233.10,286.36 L234.02,285.96 L234.02,289.76 L233.10,290.16 L232.19,290.55 L231.27,290.95Z M235.64,285.24 L236.56,284.83 L237.47,284.41 L238.39,283.99 L238.39,287.79 L237.47,288.21 L236.56,288.63 L235.64,289.04Z M240.01,283.25 L240.93,282.82 L241.84,282.39 L242.76,281.95 L242.76,285.75 L241.84,286.19 L240.93,286.62 L240.01,287.05Z M244.38,281.18 L245.30,280.73 L246.21,280.29 L247.13,279.84 L247.13,283.64 L246.21,284.09 L245.30,284.53 L244.38,284.98Z M248.75,279.04 L249.67,278.58 L250.58,278.12 L251.50,277.66 L251.50,281.46 L250.58,281.92 L249.67,282.38 L248.75,282.84Z M253.12,276.83 L254.04,276.36 L254.95,275.89 L255.87,275.41 L255.87,279.21 L254.95,279.69 L254.04,280.16 L253.12,280.63Z M257.49,274.56 L258.41,274.08 L259.32,273.60 L260.24,273.11 L260.24,276.91 L259.32,277.40 L258.41,277.88 L257.49,278.36Z M261.86,272.24 L262.78,271.75 L263.69,271.25 L264.61,270.75 L264.61,274.55 L263.69,275.05 L262.78,275.55 L261.86,276.04Z M266.23,269.87 L267.15,269.36 L268.06,268.86 L268.98,268.35 L268.98,272.15 L268.06,272.66 L267.15,273.16 L266.23,273.67Z M270.60,267.45 L271.52,266.93 L272.43,266.42 L273.35,265.90 L273.35,269.70 L272.43,270.22 L271.52,270.73 L270.60,271.25Z M274.97,264.99 L275.89,264.47 L276.80,263.94 L277.72,263.42 L277.72,267.22 L276.80,267.74 L275.89,268.27 L274.97,268.79Z M279.34,262.49 L280.26,261.96 L281.17,261.43 L282.09,260.90 L282.09,264.70 L281.17,265.23 L280.26,265.76 L279.34,266.29Z M283.71,259.96 L284.63,259.43 L285.54,258.89 L286.46,258.36 L286.46,262.16 L285.54,262.69 L284.63,263.23 L283.71,263.76Z M288.08,257.41 L289.00,256.87 L289.91,256.33 L290.83,255.79 L290.83,259.59 L289.91,260.13 L289.00,260.67 L288.08,261.21Z M292.45,254.84 L293.37,254.29 L294.28,253.75 L295.20,253.21 L295.20,257.01 L294.28,257.55 L293.37,258.09 L292.45,258.64Z M296.82,252.25 L297.74,251.70 L298.65,251.16 L299.57,250.61 L299.57,254.41 L298.65,254.96 L297.74,255.50 L296.82,256.05Z M301.19,249.65 L302.11,249.10 L303.02,248.55 L303.94,248.01 L303.94,251.81 L303.02,252.35 L302.11,252.90 L301.19,253.45Z M305.56,247.04 L306.48,246.50 L307.39,245.95 L308.31,245.40 L308.31,249.20 L307.39,249.75 L306.48,250.30 L305.56,250.84Z M309.93,244.44 L310.85,243.89 L311.76,243.34 L312.68,242.80 L312.68,246.60 L311.76,247.14 L310.85,247.69 L309.93,248.24Z M314.30,241.84 L315.22,241.29 L316.13,240.75 L317.05,240.20 L317.05,244.00 L316.13,244.55 L315.22,245.09 L314.30,245.64Z M318.67,239.24 L319.59,238.70 L320.50,238.16 L321.42,237.62 L321.42,241.42 L320.50,241.96 L319.59,242.50 L318.67,243.04Z M323.04,236.67 L323.96,236.13 L324.87,235.59 L325.79,235.06 L325.79,238.86 L324.87,239.39 L323.96,239.93 L323.04,240.47Z M327.41,234.11 L328.33,233.58 L329.24,233.05 L330.16,232.52 L330.16,236.32 L329.24,236.85 L328.33,237.38 L327.41,237.91Z M331.78,231.58 L332.70,231.05 L333.61,230.53 L334.53,230.00 L334.53,233.80 L333.61,234.33 L332.70,234.85 L331.78,235.38Z M336.15,229.08 L337.07,228.56 L337.98,228.04 L338.90,227.52 L338.90,231.32 L337.98,231.84 L337.07,232.36 L336.15,232.88Z M340.52,226.61 L341.44,226.10 L342.35,225.59 L343.27,225.08 L343.27,228.88 L342.35,229.39 L341.44,229.90 L340.52,230.41Z M344.89,224.19 L345.81,223.68 L346.72,223.18 L347.64,222.68 L347.64,226.48 L346.72,226.98 L345.81,227.48 L344.89,227.99Z M349.26,221.81 L350.18,221.31 L351.09,220.82 L352.01,220.33 L352.01,224.13 L351.09,224.62 L350.18,225.11 L349.26,225.61Z M353.63,219.47 L354.55,218.99 L355.46,218.51 L356.38,218.04 L356.38,221.84 L355.46,222.31 L354.55,222.79 L353.63,223.27Z M358.00,217.20 L358.92,216.73 L359.83,216.26 L360.75,215.80 L360.75,219.60 L359.83,220.06 L358.92,220.53 L358.00,221.00Z M362.37,214.98 L363.29,214.53 L364.20,214.07 L365.12,213.62 L365.12,217.42 L364.20,217.87 L363.29,218.33 L362.37,218.78Z M366.74,212.83 L367.66,212.39 L368.57,211.95 L369.49,211.52 L369.49,215.32 L368.57,215.75 L367.66,216.19 L366.74,216.63Z M371.11,210.75 L372.03,210.32 L372.94,209.90 L373.86,209.47 L373.86,213.27 L372.94,213.70 L372.03,214.12 L371.11,214.55Z M375.48,208.73 L376.40,208.32 L377.31,207.90 L378.23,207.49 L378.23,211.29 L377.31,211.70 L376.40,212.12 L375.48,212.53Z M379.85,206.77 L380.77,206.37 L381.68,205.97 L382.60,205.57 L382.60,209.37 L381.68,209.77 L380.77,210.17 L379.85,210.57Z M384.22,204.87 L385.14,204.48 L386.05,204.09 L386.97,203.70 L386.97,207.50 L386.05,207.89 L385.14,208.28 L384.22,208.67Z M388.59,203.02 L389.51,202.64 L390.42,202.26 L391.34,201.88 L391.34,205.68 L390.42,206.06 L389.51,206.44 L388.59,206.82Z M392.96,201.22 L393.88,200.85 L394.79,200.48 L395.71,200.11 L395.71,203.91 L394.79,204.28 L393.88,204.65 L392.96,205.02Z M397.33,199.47 L398.25,199.10 L399.16,198.74 L400.08,198.38 L400.08,202.18 L399.16,202.54 L398.25,202.90 L397.33,203.27Z M401.70,197.76 L402.62,197.40 L403.53,197.05 L404.45,196.70 L404.45,200.50 L403.53,200.85 L402.62,201.20 L401.70,201.56Z M406.07,196.08 L406.99,195.74 L407.90,195.39 L408.82,195.05 L408.82,198.85 L407.90,199.19 L406.99,199.54 L406.07,199.88Z M410.44,194.45 L411.36,194.11 L412.27,193.77 L413.19,193.44 L413.19,197.24 L412.27,197.57 L411.36,197.91 L410.44,198.25Z M414.81,192.85 L415.73,192.52 L416.64,192.18 L417.56,191.86 L417.56,195.66 L416.64,195.98 L415.73,196.32 L414.81,196.65Z M419.18,191.28 L420.10,190.95 L421.01,190.62 L421.93,190.30 L421.93,194.10 L421.01,194.42 L420.10,194.75 L419.18,195.08Z M423.55,189.73 L424.47,189.41 L425.38,189.09 L426.30,188.77 L426.30,192.57 L425.38,192.89 L424.47,193.21 L423.55,193.53Z M427.92,188.21 L428.84,187.89 L429.75,187.57 L430.67,187.26 L430.67,191.06 L429.75,191.37 L428.84,191.69 L427.92,192.01Z M432.29,186.70 L433.21,186.39 L434.12,186.07 L435.04,185.76 L435.04,189.56 L434.12,189.87 L433.21,190.19 L432.29,190.50Z M436.66,185.21 L437.58,184.90 L438.49,184.59 L439.41,184.28 L439.41,188.08 L438.49,188.39 L437.58,188.70 L436.66,189.01Z M441.03,183.73 L441.95,183.43 L442.86,183.12 L443.78,182.81 L443.78,186.61 L442.86,186.92 L441.95,187.23 L441.03,187.53Z M445.40,182.27 L446.32,181.96 L447.23,181.65 L448.15,181.35 L448.15,185.15 L447.23,185.45 L446.32,185.76 L445.40,186.07Z M449.77,180.81 L450.69,180.50 L451.60,180.19 L452.52,179.89 L452.52,183.69 L451.60,183.99 L450.69,184.30 L449.77,184.61Z M454.14,179.35 L455.06,179.04 L455.97,178.73 L456.89,178.43 L456.89,182.23 L455.97,182.53 L455.06,182.84 L454.14,183.15Z M458.51,177.88 L459.43,177.58 L460.34,177.27 L461.26,176.96 L461.26,180.76 L460.34,181.07 L459.43,181.38 L458.51,181.68Z M462.88,176.42 L463.80,176.11 L464.71,175.80 L465.63,175.49 L465.63,179.29 L464.71,179.60 L463.80,179.91 L462.88,180.22Z M467.25,174.94 L468.17,174.63 L469.08,174.32 L470.00,174.01 L470.00,177.81 L469.08,178.12 L468.17,178.43 L467.25,178.74Z M471.62,173.46 L472.54,173.15 L473.45,172.83 L474.37,172.52 L474.37,176.32 L473.45,176.63 L472.54,176.95 L471.62,177.26Z M475.99,171.96 L476.91,171.64 L477.82,171.33 L478.74,171.01 L478.74,174.81 L477.82,175.13 L476.91,175.44 L475.99,175.76Z M480.36,170.45 L481.28,170.13 L482.19,169.81 L483.11,169.49 L483.11,173.29 L482.19,173.61 L481.28,173.93 L480.36,174.25Z M484.73,168.93 L485.65,168.60 L486.56,168.28 L487.48,167.96 L487.48,171.76 L486.56,172.08 L485.65,172.40 L484.73,172.73Z M489.10,167.39 L490.02,167.06 L490.93,166.74 L491.85,166.41 L491.85,170.21 L490.93,170.54 L490.02,170.86 L489.10,171.19Z M493.47,165.84 L494.39,165.51 L495.30,165.18 L496.22,164.85 L496.22,168.65 L495.30,168.98 L494.39,169.31 L493.47,169.64Z M497.84,164.27 L498.76,163.94 L499.67,163.61 L500.59,163.28 L500.59,167.08 L499.67,167.41 L498.76,167.74 L497.84,168.07Z M502.21,162.69 L503.13,162.36 L504.04,162.02 L504.96,161.69 L504.96,165.49 L504.04,165.82 L503.13,166.16 L502.21,166.49Z M506.58,161.10 L507.50,160.76 L508.41,160.42 L509.33,160.09 L509.33,163.89 L508.41,164.22 L507.50,164.56 L506.58,164.90Z M510.95,159.49 L511.87,159.15 L512.78,158.81 L513.70,158.47 L513.70,162.27 L512.78,162.61 L511.87,162.95 L510.95,163.29Z M515.32,157.87 L516.24,157.52 L517.15,157.18 L518.07,156.84 L518.07,160.64 L517.15,160.98 L516.24,161.32 L515.32,161.67Z M519.69,156.23 L520.61,155.88 L521.52,155.54 L522.44,155.19 L522.44,158.99 L521.52,159.34 L520.61,159.68 L519.69,160.03Z M524.06,154.58 L524.98,154.23 L525.89,153.88 L526.81,153.53 L526.81,157.33 L525.89,157.68 L524.98,158.03 L524.06,158.38Z M528.43,152.91 L529.35,152.56 L530.26,152.20 L531.18,151.85 L531.18,155.65 L530.26,156.00 L529.35,156.36 L528.43,156.71Z M532.80,151.23 L533.72,150.87 L534.63,150.51 L535.55,150.16 L535.55,153.96 L534.63,154.31 L533.72,154.67 L532.80,155.03Z M537.17,149.53 L538.09,149.17 L539.00,148.81 L539.92,148.45 L539.92,152.25 L539.00,152.61 L538.09,152.97 L537.17,153.33Z M541.54,147.81 L542.46,147.45 L543.37,147.09 L544.29,146.73 L544.29,150.53 L543.37,150.89 L542.46,151.25 L541.54,151.61Z M545.91,146.08 L546.83,145.72 L547.74,145.35 L548.66,144.98 L548.66,148.78 L547.74,149.15 L546.83,149.52 L545.91,149.88Z M550.28,144.34 L551.20,143.97 L552.11,143.60 L553.03,143.23 L553.03,147.03 L552.11,147.40 L551.20,147.77 L550.28,148.14Z M554.65,142.57 L555.57,142.20 L556.48,141.83 L557.40,141.45 L557.40,145.25 L556.48,145.63 L555.57,146.00 L554.65,146.37Z M559.02,140.79 L559.94,140.42 L560.85,140.04 L561.77,139.66 L561.77,143.46 L560.85,143.84 L559.94,144.22 L559.02,144.59Z M563.39,139.00 L564.31,138.62 L565.22,138.24 L566.14,137.86 L566.14,141.66 L565.22,142.04 L564.31,142.42 L563.39,142.80Z M567.76,137.18 L568.68,136.80 L569.59,136.42 L570.51,136.03 L570.51,139.83 L569.59,140.22 L568.68,140.60 L567.76,140.98Z M572.13,135.35 L573.05,134.97 L573.96,134.58 L574.88,134.19 L574.88,137.99 L573.96,138.38 L573.05,138.77 L572.13,139.15Z M576.50,133.51 L577.42,133.12 L578.33,132.72 L579.25,132.33 L579.25,136.13 L578.33,136.52 L577.42,136.92 L576.50,137.31Z M580.87,131.64 L581.79,131.25 L582.70,130.85 L583.62,130.46 L583.62,134.26 L582.70,134.65 L581.79,135.05 L580.87,135.44Z M585.24,129.76 L586.16,129.36 L587.07,128.96 L587.99,128.56 L587.99,132.36 L587.07,132.76 L586.16,133.16 L585.24,133.56Z M589.61,127.86 L590.53,127.45 L591.44,127.05 L592.36,126.65 L592.36,130.45 L591.44,130.85 L590.53,131.25 L589.61,131.66Z M593.98,125.94 L594.90,125.53 L595.81,125.13 L596.73,124.72 L596.73,128.52 L595.81,128.93 L594.90,129.33 L593.98,129.74Z M598.35,124.00 L599.27,123.59 L600.18,123.18 L601.10,122.77 L601.10,126.57 L600.18,126.98 L599.27,127.39 L598.35,127.80Z M602.72,122.04 L603.64,121.63 L604.55,121.22 L605.47,120.80 L605.47,124.60 L604.55,125.02 L603.64,125.43 L602.72,125.84Z M607.09,120.07 L608.01,119.65 L608.92,119.23 L609.84,118.82 L609.84,122.62 L608.92,123.03 L608.01,123.45 L607.09,123.87Z M611.46,118.08 L612.38,117.65 L613.29,117.23 L614.21,116.81 L614.21,120.61 L613.29,121.03 L612.38,121.45 L611.46,121.88Z M615.83,116.06 L616.75,115.64 L617.66,115.21 L618.58,114.79 L618.58,118.59 L617.66,119.01 L616.75,119.44 L615.83,119.86Z M620.20,114.03 L621.12,113.60 L622.03,113.17 L622.95,112.74 L622.95,116.54 L622.03,116.97 L621.12,117.40 L620.20,117.83Z M624.57,111.98 L625.49,111.55 L626.40,111.11 L627.32,110.68 L627.32,114.48 L626.40,114.91 L625.49,115.35 L624.57,115.78Z M628.94,109.91 L629.86,109.47 L630.77,109.03 L631.69,108.59 L631.69,112.39 L630.77,112.83 L629.86,113.27 L628.94,113.71Z M633.31,107.82 L634.23,107.38 L635.14,106.93 L636.06,106.49 L636.06,110.29 L635.14,110.73 L634.23,111.18 L633.31,111.62Z M637.68,105.71 L638.60,105.26 L639.51,104.81 L640.43,104.37 L640.43,108.17 L639.51,108.61 L638.60,109.06 L637.68,109.51Z M642.05,103.58 L642.97,103.13 L643.88,102.67 L644.80,102.22 L644.80,106.02 L643.88,106.47 L642.97,106.93 L642.05,107.38Z M646.42,101.42 L647.34,100.97 L648.25,100.51 L649.17,100.06 L649.17,103.86 L648.25,104.31 L647.34,104.77 L646.42,105.22Z M650.79,99.25 L651.71,98.79 L652.62,98.33 L653.54,97.87 L653.54,101.67 L652.62,102.13 L651.71,102.59 L650.79,103.05Z M655.16,97.06 L656.08,96.60 L656.99,96.13 L657.91,95.67 L657.91,99.47 L656.99,99.93 L656.08,100.40 L655.16,100.86Z M659.53,94.84 L660.45,94.38 L661.36,93.91 L662.28,93.44 L662.28,97.24 L661.36,97.71 L660.45,98.18 L659.53,98.64Z M663.90,92.61 L664.82,92.14 L665.73,91.66 L666.65,91.19 L666.65,94.99 L665.73,95.46 L664.82,95.94 L663.90,96.41Z M668.27,90.35 L669.19,89.88 L670.10,89.40 L671.02,88.92 L671.02,92.72 L670.10,93.20 L669.19,93.68 L668.27,94.15Z M672.64,88.07 L673.56,87.59 L674.47,87.11 L675.39,86.63 L675.39,90.43 L674.47,90.91 L673.56,91.39 L672.64,91.87Z" fill="#f0f"/>
<g fill="none" stroke="#00f" stroke-width="3.6"><circle cx="157.11" cy="481.22" r="5.7"/><circle cx="261.09" cy="461.55" r="5.7"/><circle cx="365.07" cy="432.04" r="5.7"/><circle cx="469.05" cy="382.86" r="5.7"/><circle cx="573.03" cy="343.51" r="5.7"/><circle cx="677.01" cy="294.33" r="5.7"/></g>
<g fill="none" stroke="#00f" stroke-width="3.6" stroke-linecap="butt"><path d="M153.21,300.27 L161.01,308.07 M153.21,308.07 L161.01,300.27"/><path d="M257.19,270.76 L264.99,278.56 M257.19,278.56 L264.99,270.76"/><path d="M361.17,211.75 L368.97,219.55 M361.17,219.55 L368.97,211.75"/><path d="M465.15,172.40 L472.95,180.20 M465.15,180.20 L472.95,172.40"/><path d="M569.13,133.06 L576.93,140.86 M569.13,140.86 L576.93,133.06"/><path d="M673.11,83.88 L680.91,91.68 M673.11,91.68 L680.91,83.88"/></g>
<g fill="none" stroke="#2b2b2b" stroke-width="1.25">
<rect x="53.47" y="9.44" width="623.13" height="491.86"/>
<line x1="139.58" y1="501.3" x2="139.58" y2="495.0"/><line x1="139.58" y1="9.44" x2="139.58" y2="15.739999999999998"/><line x1="226.23" y1="501.3" x2="226.23" y2="495.0"/><line x1="226.23" y1="9.44" x2="226.23" y2="15.739999999999998"/><line x1="312.88" y1="501.3" x2="312.88" y2="495.0"/><line x1="312.88" y1="9.44" x2="312.88" y2="15.739999999999998"/><line x1="399.53" y1="501.3" x2="399.53" y2="495.0"/><line x1="399.53" y1="9.44" x2="399.53" y2="15.739999999999998"/><line x1="486.18" y1="501.3" x2="486.18" y2="495.0"/><line x1="486.18" y1="9.44" x2="486.18" y2="15.739999999999998"/><line x1="572.83" y1="501.3" x2="572.83" y2="495.0"/><line x1="572.83" y1="9.44" x2="572.83" y2="15.739999999999998"/><line x1="659.48" y1="501.3" x2="659.48" y2="495.0"/><line x1="659.48" y1="9.44" x2="659.48" y2="15.739999999999998"/><line x1="53.47" y1="402.53" x2="59.769999999999996" y2="402.53"/><line x1="676.6" y1="402.53" x2="670.3000000000001" y2="402.53"/><line x1="53.47" y1="304.17" x2="59.769999999999996" y2="304.17"/><line x1="676.6" y1="304.17" x2="670.3000000000001" y2="304.17"/><line x1="53.47" y1="205.81" x2="59.769999999999996" y2="205.81"/><line x1="676.6" y1="205.81" x2="670.3000000000001" y2="205.81"/><line x1="53.47" y1="107.45" x2="59.769999999999996" y2="107.45"/><line x1="676.6" y1="107.45" x2="670.3000000000001" y2="107.45"/>
</g>
<rect x="88.0" y="37.5" width="146.50" height="119.70" fill="#fff" stroke="#333" stroke-width="1.5"/>
<path d="M99.1,52.95 H157.1 V56.75 H99.1Z" fill="#000"/>
<circle cx="128.2" cy="83.4" r="5.7" fill="none" stroke="#00f" stroke-width="3.6"/>
<path d="M99.0,109.25 H157.1 V113.05 H99.0Z" fill="#f0f" fill-opacity="0.18"/>
<path d="M99.00,109.25 H101.75 V113.05 H99.00Z M103.37,109.25 H106.12 V113.05 H103.37Z M107.74,109.25 H110.49 V113.05 H107.74Z M112.11,109.25 H114.86 V113.05 H112.11Z M116.48,109.25 H119.23 V113.05 H116.48Z M120.85,109.25 H123.60 V113.05 H120.85Z M125.22,109.25 H127.97 V113.05 H125.22Z M129.59,109.25 H132.34 V113.05 H129.59Z M133.96,109.25 H136.71 V113.05 H133.96Z M138.33,109.25 H141.08 V113.05 H138.33Z M142.70,109.25 H145.45 V113.05 H142.70Z M147.07,109.25 H149.82 V113.05 H147.07Z M151.44,109.25 H154.19 V113.05 H151.44Z M155.81,109.25 H157.10 V113.05 H155.81Z" fill="#f0f"/>
<g fill="none" stroke="#00f" stroke-width="3.6" stroke-linecap="butt"><path d="M124.15,135.85 L131.95,143.65 M124.15,143.65 L131.95,135.85"/></g>
<g class="t" font-size="19.6">
<text x="163" y="62">Crest</text>
<text x="163" y="90">Crest</text>
<text x="163" y="118.5">Trough</text>
<text x="163" y="147.3">Trough</text>
</g>
</svg>
</body></html>
